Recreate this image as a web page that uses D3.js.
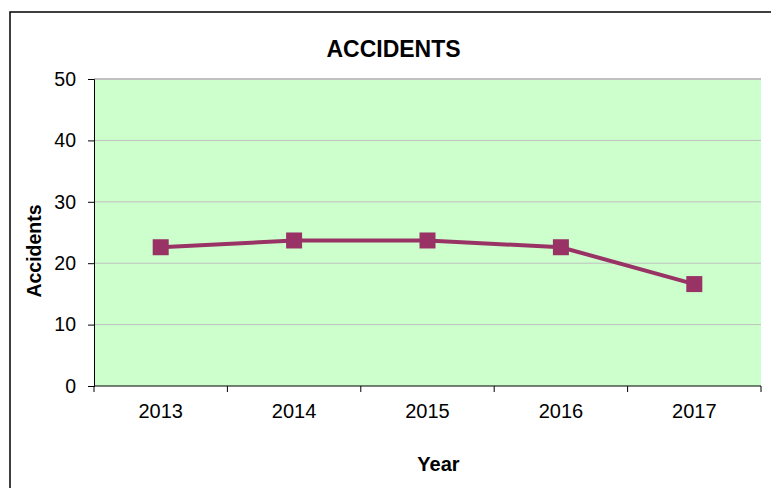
<!DOCTYPE html>
<html><head><meta charset="utf-8">
<script src="https://cdn.jsdelivr.net/npm/d3@7/dist/d3.min.js"></script>
<style>body{margin:0;background:#fff;}svg{display:block;font-family:"Liberation Sans",Arial,sans-serif;}</style>
</head><body>
<script>
const years = ["2013","2014","2015","2016","2017"];
const accidents = [22.6, 23.7, 23.7, 22.6, 16.6];
const yTicks = [0,10,20,30,40,50];
const chartTitle = "ACCIDENTS";
const xTitle = "Year";
const yTitle = "Accidents";

const W = 771, H = 488;
const m = {left:94, right:10, top:79, bottom:102};
const svg = d3.select("body").append("svg").attr("width",W).attr("height",H);

// outer chart border
svg.append("rect").attr("x",10).attr("y",12).attr("width",W+20).attr("height",H+20)
  .attr("fill","none").attr("stroke","#000").attr("stroke-width",1.5);

const x = d3.scaleBand().domain(years).range([m.left, W-m.right]);
const y = d3.scaleLinear().domain([0,50]).range([H-m.bottom, m.top]);

svg.append("rect").attr("x",m.left).attr("y",m.top)
  .attr("width",W-m.right-m.left).attr("height",H-m.bottom-m.top).attr("fill","#ccffcc");

// gridlines
svg.append("g").selectAll("line").data(yTicks.filter(d=>d>0)).join("line")
  .attr("x1",m.left).attr("x2",W-m.right)
  .attr("y1",d=>y(d)).attr("y2",d=>y(d))
  .attr("stroke","#c0c0c0").attr("stroke-width",d=>d===50?2:1);

// y axis
const ya = svg.append("g").attr("transform",`translate(${m.left},0)`)
  .call(d3.axisLeft(y).tickValues(yTicks).tickSize(6).tickPadding(12));
ya.select(".domain").attr("stroke","#000");
ya.selectAll("text").attr("font-size",19.5).attr("fill","#000")
  .attr("font-family","'Liberation Sans',Arial,sans-serif");

// x axis with ticks at category boundaries
const xa = svg.append("g").attr("transform",`translate(0,${y(0)})`);
xa.append("line").attr("x1",m.left).attr("x2",W-m.right).attr("stroke","#000");
const bounds = years.map(d=>x(d)).concat([x(years[years.length-1])+x.bandwidth()]);
xa.selectAll("line.tk").data(bounds).join("line").attr("class","tk")
  .attr("x1",d=>d).attr("x2",d=>d).attr("y1",0).attr("y2",6).attr("stroke","#000");
xa.selectAll("text").data(years).join("text")
  .attr("x",d=>x(d)+x.bandwidth()/2).attr("y",31.5).attr("text-anchor","middle")
  .attr("font-size",20).attr("fill","#000").text(d=>d);

// line
const cx = d=>x(d)+x.bandwidth()/2;
svg.append("path").datum(years.map((d,i)=>[cx(d), y(accidents[i])]))
  .attr("d", d3.line()).attr("fill","none").attr("stroke","#993366").attr("stroke-width",4);
const ms = 16;
svg.append("g").selectAll("rect").data(years).join("rect")
  .attr("x",d=>cx(d)-ms/2).attr("y",(d,i)=>y(accidents[i])-ms/2)
  .attr("width",ms).attr("height",ms).attr("fill","#993366");

// titles
svg.append("text").attr("x",393.5).attr("y",56.5).attr("text-anchor","middle")
  .attr("font-size",23).attr("font-weight","bold").text(chartTitle);
svg.append("text").attr("x",438.5).attr("y",470.5).attr("text-anchor","middle")
  .attr("font-size",20).attr("font-weight","bold").text(xTitle);
svg.append("text").attr("transform","translate(41,251) rotate(-90)").attr("text-anchor","middle")
  .attr("font-size",19.5).attr("font-weight","bold").text(yTitle);
</script>
</body></html>
